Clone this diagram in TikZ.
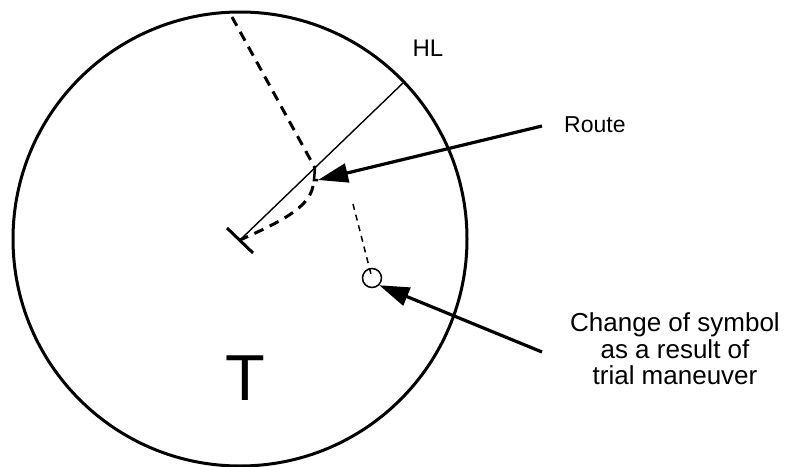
\documentclass[tikz,border=0pt]{standalone}
\usepackage{fontspec}
\setmainfont{Liberation Sans}
\usetikzlibrary{arrows.meta}
\begin{document}
\begin{tikzpicture}[x=1pt,y=-1pt,
  thickline/.style={line width=3pt},
  routedash/.style={line width=3pt, dash pattern=on 10pt off 7pt},
  thindash/.style={line width=1.5pt, dash pattern=on 6pt off 5pt},
  bigarrow/.style={line width=3.2pt, -{Triangle[length=30pt,width=19pt]}},
  lbl/.style={inner sep=0pt, font=\fontsize{22}{26}\selectfont}
]
\useasboundingbox (0,0) rectangle (790,466);
% main circle
\node[draw, circle, line width=3pt, minimum size=454pt, inner sep=0pt] (ring) at (240,239) {};
% own ship origin and heading line
\coordinate (O) at (240,240);
\coordinate (hl) at (403,83);
\draw[line width=1.4pt] (O) -- (hl);
\coordinate (b1) at (227,228);
\coordinate (b2) at (253,253);
\draw[thickline] (b1) -- (b2);
% route
\coordinate (r0) at (232,17);
\coordinate (r1) at (315,168);
\coordinate (r2) at (314,180);
\coordinate (r3) at (318,180);
\draw[routedash] (r0) -- (r1);
\draw[line width=2.5pt] (r1) -- (r2) -- (r3);
\draw[routedash] (313,186) .. controls (309,208) and (280,222) .. (O);
% trial maneuver symbol
\node[draw, circle, line width=1.5pt, minimum size=19pt, inner sep=0pt] (sym) at (372,278) {};
\coordinate (t0) at (353,204);
\draw[thindash] (t0) -- (sym.center);
% labels
\node[lbl, font=\fontsize{24}{28}\selectfont] (HL) at (428,48) {HL};
\node[lbl, anchor=west, font=\fontsize{23}{26}\selectfont] (route) at (564,125) {Route};
\node[lbl, align=center, font=\fontsize{26}{26.5}\selectfont] (change) at (675,349) {Change of symbol\\as a result of\\trial maneuver};
\node[inner sep=0pt, font=\fontsize{65}{70}\selectfont] (T) at (245,378) {T};
% arrows
\coordinate (a1) at (542,126);
\coordinate (a2) at (542,352);
\draw[bigarrow] (a1) -- (r3);
\draw[bigarrow] (a2) -- (sym.south east);
\end{tikzpicture}
\end{document}
